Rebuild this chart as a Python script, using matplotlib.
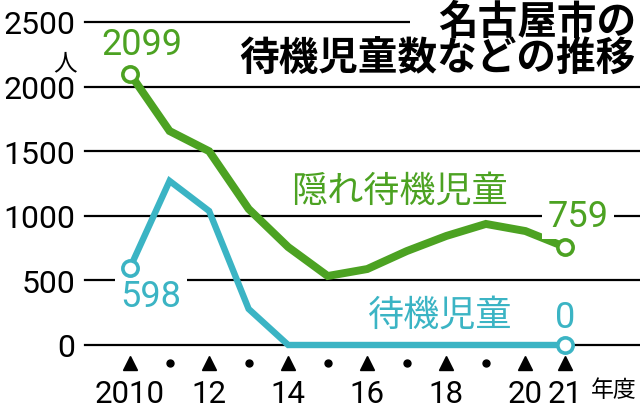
import matplotlib
matplotlib.use("Agg")
import matplotlib.pyplot as plt

years = [2010, 2011, 2012, 2013, 2014, 2015, 2016, 2017, 2018, 2019, 2020, 2021]
hidden = [2099, 1656, 1500, 1053, 758, 534, 588, 727, 844, 937, 882, 759]
waiting = [598, 1270, 1037, 279, 0, 0, 0, 0, 0, 0, 0, 0]
yticks = [0, 500, 1000, 1500, 2000, 2500]
xtick_years = [2010, 2012, 2014, 2016, 2018, 2020, 2021]
xtick_labels = ["2010", "12", "14", "16", "18", "20", "21"]
dot_years = [2011, 2013, 2015, 2017, 2019]

GREEN = "#4ca222"
CYAN = "#3bb4c4"
CJK = ["Noto Sans CJK JP", "DejaVu Sans"]
NUM = ["Roboto", "Liberation Sans", "DejaVu Sans"]
NW = "normal"

fig = plt.figure(figsize=(6.4, 4.1), dpi=100)
ax = fig.add_axes([85 / 640, (410 - 346) / 410, (640 - 85) / 640, (346 - 23) / 410])
x0 = 2010 - 45 / 39.5
x1 = 2021 + 75 / 39.5
ax.set_xlim(x0, x1)
ax.set_ylim(0, 2500)
for s in ax.spines.values():
    s.set_visible(False)

for yv in yticks:
    ax.axhline(yv, color="black", lw=1.6, zorder=1, clip_on=False)

ax.set_yticks(yticks)
ax.set_yticklabels([str(v) for v in yticks], fontsize=23, family=NUM, fontweight=NW)
ax.tick_params(axis="y", length=0, pad=7)
ax.set_xticks(xtick_years)
ax.set_xticklabels(xtick_labels, fontsize=22.5, family=NUM, fontweight=NW)
ax.tick_params(axis="x", length=0, pad=24.5)

tr = ax.get_xaxis_transform()
ax.plot(xtick_years, [-0.056] * len(xtick_years), ls="none", marker="^",
        color="black", ms=10, transform=tr, clip_on=False)
ax.plot(dot_years, [-0.056] * len(dot_years), ls="none", marker="o",
        color="black", ms=5, transform=tr, clip_on=False)

ax.plot(years, hidden, color=GREEN, lw=5.7, solid_joinstyle="miter",
        solid_capstyle="butt", zorder=3, clip_on=False)
ax.plot(years, waiting, color=CYAN, lw=4.6, solid_joinstyle="miter",
        solid_capstyle="butt", zorder=3, clip_on=False)
for ser, col in ((hidden, GREEN), (waiting, CYAN)):
    ax.plot([years[0], years[-1]], [ser[0], ser[-1]], ls="none", marker="o",
            ms=11, mfc="white", mec=col, mew=2.6, zorder=4, clip_on=False)

lab = dict(textcoords="offset pixels", ha="center", va="center",
           fontsize=26, family=NUM, fontweight=NW)
ax.annotate(str(hidden[0]), (years[0], hidden[0]), xytext=(12, 30),
            color=GREEN, **lab)
ax.annotate(str(waiting[0]), (years[0], waiting[0]), xytext=(21, -28),
            color=CYAN, bbox=dict(boxstyle="square,pad=0.15", fc="white", ec="none"), **lab)
ax.annotate(str(hidden[-1]), (years[-1], hidden[-1]), xytext=(13, 31),
            color=GREEN, bbox=dict(boxstyle="square,pad=0.15", fc="white", ec="none"), **lab)
ax.annotate(str(waiting[-1]), (years[-1], waiting[-1]), xytext=(0, 28),
            color=CYAN, **lab)

ax.text(2016.81, 1192, "隠れ待機児童", fontsize=26, color=GREEN, family=CJK,
        ha="center", va="center")
ax.text(2017.85, 232, "待機児童", fontsize=26, color=CYAN, family=CJK,
        ha="center", va="center")

fig.text(65 / 640, 1 - 64 / 410, "人", fontsize=17, family=CJK, ha="center", va="center")
fig.text(591 / 640, 1 - 391 / 410, "年度", fontsize=16.5, family=CJK, ha="left", va="center")

fig.text(636 / 640, 1 - 22 / 410, "名古屋市の", fontsize=28.5,
         family=CJK, fontweight="bold", ha="right", va="center",
         bbox=dict(boxstyle="square,pad=0.7", fc="white", ec="none"), zorder=5)
fig.text(636 / 640, 1 - 59 / 410, "待機児童数などの推移", fontsize=28.5,
         family=CJK, fontweight="bold", ha="right", va="center", zorder=6)

fig.savefig("out.png", dpi=100, facecolor="white")
